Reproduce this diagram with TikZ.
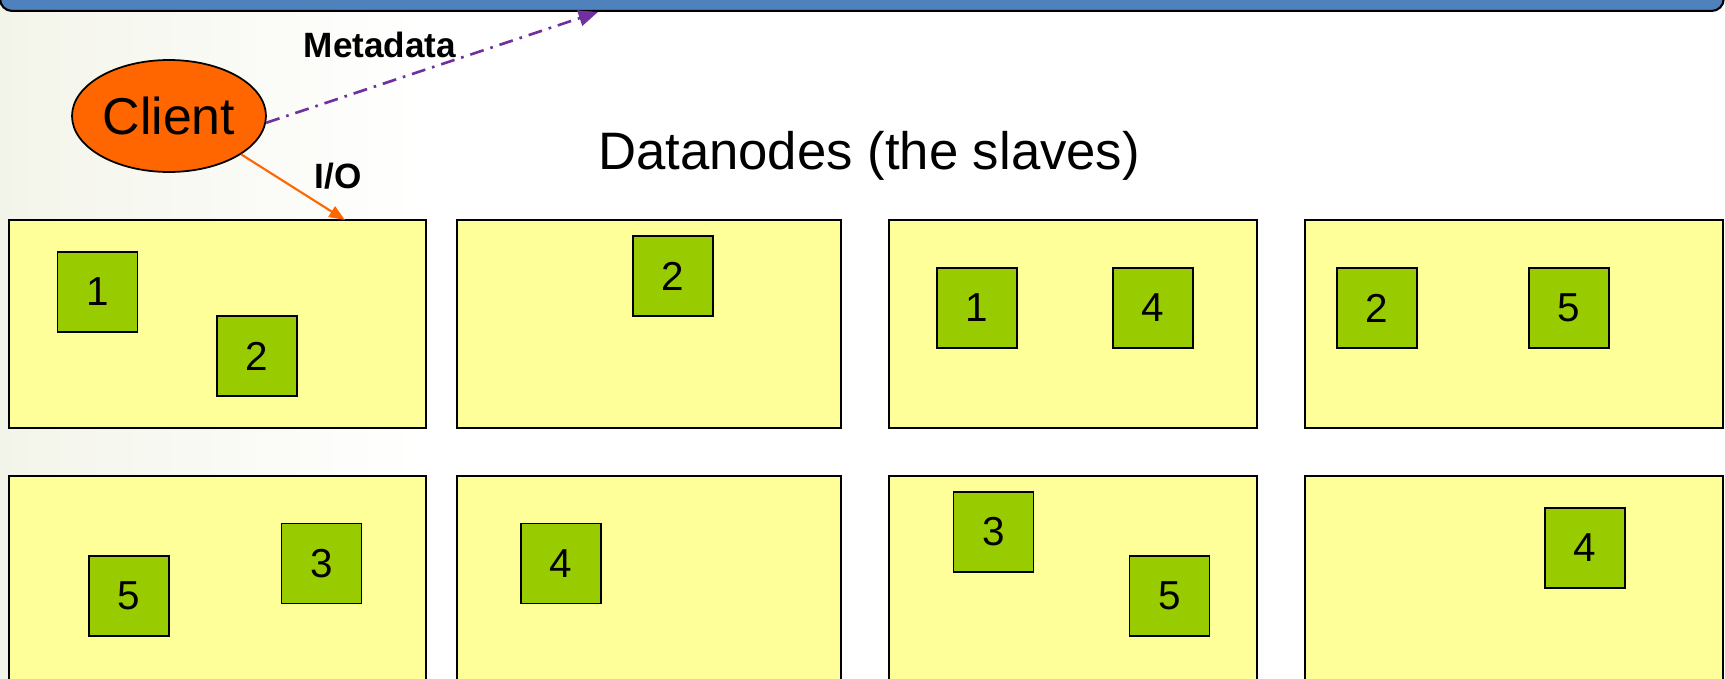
\documentclass[tikz,border=0pt]{standalone}
\usepackage{fontspec}
\setmainfont{Liberation Sans}
\usetikzlibrary{arrows.meta,positioning,shapes.geometric}
\definecolor{barblue}{HTML}{4F81BD}
\definecolor{clientorange}{HTML}{FF6600}
\definecolor{metapurple}{HTML}{7030A0}
\definecolor{dnyellow}{HTML}{FFFF99}
\definecolor{blkgreen}{HTML}{99CC00}
\definecolor{wmark}{HTML}{F3F4E9}

\begin{document}
\begin{tikzpicture}[
  x=0.02cm, y=-0.02cm,
  bar/.style={draw, line width=1.2pt, fill=barblue, rounded corners=0.24cm, inner sep=0pt},
  dn/.style={draw, line width=1pt, fill=dnyellow, minimum height=4.16cm, inner sep=0pt},
  blk/.style={draw, line width=1pt, fill=blkgreen, minimum size=1.6cm, inner sep=0pt,
    font=\fontsize{23}{23}\selectfont},
  lbl/.style={font=\bfseries\fontsize{20}{20}\selectfont},
  d/.style={-{Triangle[length=9pt,width=7pt]}, line width=1.2pt}
]
\useasboundingbox (0,0) rectangle (1725,679);
\clip (0,0) rectangle (1725,679);
\shade[left color=wmark, right color=white] (0,0) rectangle (420,679);

% name node bar (cut off at the top)
\node[bar, anchor=south west, minimum width=34.48cm, minimum height=1.5cm] (nn) at (-1,12) {};
\coordinate (meta) at (598,12);

% client
\node[ellipse, draw, line width=1pt, fill=clientorange, minimum width=3.88cm,
  minimum height=2.24cm, inner sep=0pt, font=\fontsize{29.5}{29.5}\selectfont]
  (client) at (169,116) {Client};
\node[font=\fontsize{30}{30}\selectfont] (title) at (869,156) {Datanodes (the slaves)};

% datanodes
\node[dn, minimum width=8.34cm] (n1) at (217.5,324) {};
\node[dn, minimum width=7.68cm] (n2) at (649,324) {};
\node[dn, minimum width=7.36cm] (n3) at (1073,324) {};
\node[dn, minimum width=8.36cm] (n4) at (1514,324) {};
\node[dn, minimum width=8.34cm] (n5) at (217.5,580) {};
\node[dn, minimum width=7.68cm] (n6) at (649,580) {};
\node[dn, minimum width=7.36cm] (n7) at (1073,580) {};
\node[dn, minimum width=8.36cm] (n8) at (1514,580) {};

% blocks
\node[blk] (b1a) at (97.5,292) {1};
\node[blk] (b1b) at (257,356) {2};
\node[blk] (b2a) at (673,276) {2};
\node[blk] (b3a) at (977,308) {1};
\node[blk] (b3b) at (1153,308) {4};
\node[blk] (b4a) at (1377,308) {2};
\node[blk] (b4b) at (1569,308) {5};
\node[blk] (b5a) at (129,596) {5};
\node[blk] (b5b) at (321.5,563.5) {3};
\node[blk] (b6a) at (561,563.5) {4};
\node[blk] (b7a) at (993.5,532) {3};
\node[blk] (b7b) at (1169.5,596) {5};
\node[blk] (b8a) at (1585,548) {4};

% client connections
\coordinate (io) at (345,220);
\draw[d, metapurple, line width=1.5pt, dash pattern=on 8pt off 4pt on 1.5pt off 4pt,
  -{Triangle[length=11pt,width=9pt]}] (client.-4) -- (meta);
\draw[d, clientorange] (client.-28) -- (io);
\node[lbl] (metalbl) at (380,45) {Metadata};
\node[lbl] (iolbl) at (338,176) {I/O};
\end{tikzpicture}
\end{document}
